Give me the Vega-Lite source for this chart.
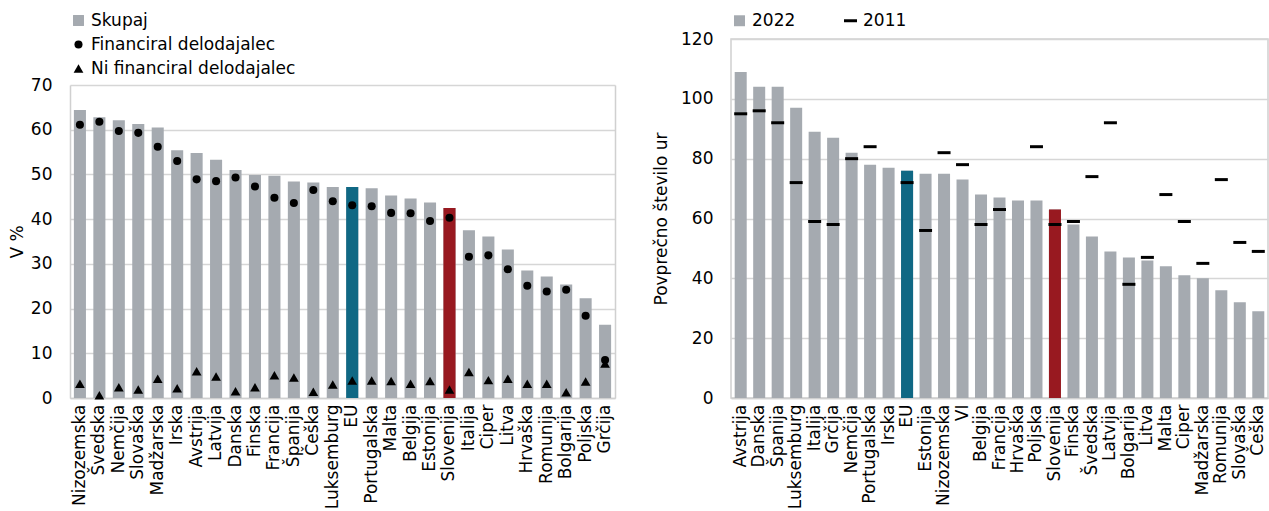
{
  "$schema": "https://vega.github.io/schema/vega-lite/v6.json",
  "padding": {"left": 8, "top": 11, "right": 0, "bottom": 0},
  "spacing": 36,
  "config": {
    "font": "DejaVu Sans",
    "view": {"stroke": "#d0d0d0", "strokeWidth": 1.5},
    "axis": {"labelFontSize": 17, "titleFontSize": 17, "labelColor": "#000", "titleColor": "#000", "titleFontWeight": "normal", "gridColor": "#d6d6d6", "gridWidth": 1.5, "domainColor": "#d0d0d0", "domainWidth": 1.5, "ticks": false, "labelLimit": 300},
    "legend": {"labelFontSize": 17, "labelColor": "#000", "labelLimit": 400}
  },
  "datasets": {
    "left": [
      {"country": "Nizozemska", "Skupaj": 64.4, "Financiral delodajalec": 61.1, "Ni financiral delodajalec": 3.2},
      {"country": "Švedska", "Skupaj": 62.8, "Financiral delodajalec": 61.8, "Ni financiral delodajalec": 0.6},
      {"country": "Nemčija", "Skupaj": 62.1, "Financiral delodajalec": 59.7, "Ni financiral delodajalec": 2.4},
      {"country": "Slovaška", "Skupaj": 61.3, "Financiral delodajalec": 59.3, "Ni financiral delodajalec": 1.9},
      {"country": "Madžarska", "Skupaj": 60.5, "Financiral delodajalec": 56.2, "Ni financiral delodajalec": 4.3},
      {"country": "Irska", "Skupaj": 55.4, "Financiral delodajalec": 53.0, "Ni financiral delodajalec": 2.2},
      {"country": "Avstrija", "Skupaj": 54.8, "Financiral delodajalec": 48.9, "Ni financiral delodajalec": 6.0},
      {"country": "Latvija", "Skupaj": 53.3, "Financiral delodajalec": 48.5, "Ni financiral delodajalec": 4.8},
      {"country": "Danska", "Skupaj": 51.0, "Financiral delodajalec": 49.3, "Ni financiral delodajalec": 1.5},
      {"country": "Finska", "Skupaj": 49.9, "Financiral delodajalec": 47.3, "Ni financiral delodajalec": 2.4},
      {"country": "Francija", "Skupaj": 49.7, "Financiral delodajalec": 44.8, "Ni financiral delodajalec": 5.1},
      {"country": "Španija", "Skupaj": 48.4, "Financiral delodajalec": 43.6, "Ni financiral delodajalec": 4.6},
      {"country": "Češka", "Skupaj": 48.2, "Financiral delodajalec": 46.5, "Ni financiral delodajalec": 1.4},
      {"country": "Luksemburg", "Skupaj": 47.2, "Financiral delodajalec": 44.0, "Ni financiral delodajalec": 3.0},
      {"country": "EU", "Skupaj": 47.2, "Financiral delodajalec": 43.1, "Ni financiral delodajalec": 3.9},
      {"country": "Portugalska", "Skupaj": 46.9, "Financiral delodajalec": 42.9, "Ni financiral delodajalec": 3.9},
      {"country": "Malta", "Skupaj": 45.3, "Financiral delodajalec": 41.4, "Ni financiral delodajalec": 3.8},
      {"country": "Belgija", "Skupaj": 44.6, "Financiral delodajalec": 41.3, "Ni financiral delodajalec": 3.2},
      {"country": "Estonija", "Skupaj": 43.7, "Financiral delodajalec": 39.6, "Ni financiral delodajalec": 3.8},
      {"country": "Slovenija", "Skupaj": 42.5, "Financiral delodajalec": 40.3, "Ni financiral delodajalec": 1.9},
      {"country": "Italija", "Skupaj": 37.5, "Financiral delodajalec": 31.6, "Ni financiral delodajalec": 5.8},
      {"country": "Ciper", "Skupaj": 36.1, "Financiral delodajalec": 31.9, "Ni financiral delodajalec": 4.0},
      {"country": "Litva", "Skupaj": 33.2, "Financiral delodajalec": 28.8, "Ni financiral delodajalec": 4.3},
      {"country": "Hrvaška", "Skupaj": 28.5, "Financiral delodajalec": 25.1, "Ni financiral delodajalec": 3.2},
      {"country": "Romunija", "Skupaj": 27.2, "Financiral delodajalec": 23.8, "Ni financiral delodajalec": 3.2},
      {"country": "Bolgarija", "Skupaj": 25.4, "Financiral delodajalec": 24.2, "Ni financiral delodajalec": 1.3},
      {"country": "Poljska", "Skupaj": 22.3, "Financiral delodajalec": 18.4, "Ni financiral delodajalec": 3.7},
      {"country": "Grčija", "Skupaj": 16.4, "Financiral delodajalec": 8.5, "Ni financiral delodajalec": 7.7}
    ],
    "right": [
      {"country": "Avstrija", "y2022": 109, "y2011": 95},
      {"country": "Danska", "y2022": 104, "y2011": 96},
      {"country": "Španija", "y2022": 104, "y2011": 92},
      {"country": "Luksemburg", "y2022": 97, "y2011": 72},
      {"country": "Italija", "y2022": 89, "y2011": 59},
      {"country": "Grčija", "y2022": 87, "y2011": 58},
      {"country": "Nemčija", "y2022": 82, "y2011": 80},
      {"country": "Portugalska", "y2022": 78, "y2011": 84},
      {"country": "Irska", "y2022": 77, "y2011": null},
      {"country": "EU", "y2022": 76, "y2011": 72},
      {"country": "Estonija", "y2022": 75, "y2011": 56},
      {"country": "Nizozemska", "y2022": 75, "y2011": 82},
      {"country": "VI", "y2022": 73, "y2011": 78},
      {"country": "Belgija", "y2022": 68, "y2011": 58},
      {"country": "Francija", "y2022": 67, "y2011": 63},
      {"country": "Hrvaška", "y2022": 66, "y2011": null},
      {"country": "Poljska", "y2022": 66, "y2011": 84},
      {"country": "Slovenija", "y2022": 63, "y2011": 58},
      {"country": "Finska", "y2022": 58, "y2011": 59},
      {"country": "Švedska", "y2022": 54, "y2011": 74},
      {"country": "Latvija", "y2022": 49, "y2011": 92},
      {"country": "Bolgarija", "y2022": 47, "y2011": 38},
      {"country": "Litva", "y2022": 46, "y2011": 47},
      {"country": "Malta", "y2022": 44, "y2011": 68},
      {"country": "Ciper", "y2022": 41, "y2011": 59},
      {"country": "Madžarska", "y2022": 40, "y2011": 45},
      {"country": "Romunija", "y2022": 36, "y2011": 73},
      {"country": "Slovaška", "y2022": 32, "y2011": 52},
      {"country": "Češka", "y2022": 29, "y2011": 49}
    ]
  },
  "hconcat": [
    {
      "width": 545,
      "height": 359,
      "view": {"stroke": null},
      "data": {"name": "left"},
      "transform": [{"fold": ["Skupaj", "Financiral delodajalec", "Ni financiral delodajalec"], "as": ["series", "value"]}],
      "encoding": {
        "x": {"field": "country", "type": "nominal", "sort": null, "title": null, "scale": {"paddingInner": 0.38, "paddingOuter": 0.2}, "axis": {"labelAngle": -90, "labelPadding": 6, "domain": true}}
      },
      "layer": [
        {
          "transform": [{"filter": "datum.series === 'Skupaj'"}],
          "mark": {"type": "bar"},
          "encoding": {
            "y": {"field": "value", "type": "quantitative", "title": "V %", "scale": {"domain": [0, 70], "range": [359, 46]}, "axis": {"values": [0, 10, 20, 30, 40, 50, 60, 70], "labelPadding": 18, "titlePadding": 4, "domain": true}},
            "color": {"field": "series", "type": "nominal", "scale": {"domain": ["Skupaj", "Financiral delodajalec", "Ni financiral delodajalec"], "range": ["#a5aab0", "#000000", "#000000"]}, "legend": {"title": null, "orient": "none", "legendX": 0, "legendY": -27, "direction": "vertical", "columns": 1, "rowPadding": 6}}
          }
        },
        {
          "transform": [{"filter": "datum.series === 'Skupaj' && (datum.country === 'EU' || datum.country === 'Slovenija')"}],
          "mark": {"type": "bar"},
          "encoding": {
            "y": {"field": "value", "type": "quantitative", "axis": null},
            "color": {"condition": {"test": "datum.country === 'EU'", "value": "#106884"}, "value": "#981920"}
          }
        },
        {
          "transform": [{"filter": "datum.series !== 'Skupaj'"}],
          "mark": {"type": "point", "filled": true, "opacity": 1},
          "encoding": {
            "y": {"field": "value", "type": "quantitative", "axis": {"orient": "right", "labels": false, "grid": false, "domain": true, "title": null}},
            "color": {"field": "series", "type": "nominal"},
            "shape": {"field": "series", "type": "nominal", "scale": {"domain": ["Skupaj", "Financiral delodajalec", "Ni financiral delodajalec"], "range": ["square", "circle", "triangle-up"]}},
            "size": {"field": "series", "type": "ordinal", "scale": {"type": "ordinal", "domain": ["Skupaj", "Financiral delodajalec", "Ni financiral delodajalec"], "range": [120, 65, 95]}}
          }
        }
      ],
      "resolve": {"axis": {"y": "independent"}}
    },
    {
      "width": 537,
      "height": 359,
      "data": {"name": "right"},
      "transform": [{"fold": ["y2022", "y2011"], "as": ["key", "value"]}, {"calculate": "substring(datum.key, 1)", "as": "series"}],
      "encoding": {
        "x": {"field": "country", "type": "nominal", "sort": null, "title": null, "scale": {"paddingInner": 0.35, "paddingOuter": 0.2}, "axis": {"labelAngle": -90, "labelPadding": 6}},
        "y": {"field": "value", "type": "quantitative", "title": "Povprečno število ur", "scale": {"domain": [0, 120]}, "axis": {"values": [0, 20, 40, 60, 80, 100, 120], "labelPadding": 18, "titlePadding": 10, "domain": false}}
      },
      "layer": [
        {
          "transform": [{"filter": "datum.series === '2022'"}],
          "mark": {"type": "bar"},
          "encoding": {
            "color": {"field": "series", "type": "nominal", "scale": {"domain": ["2022", "2011"], "range": ["#a5aab0", "#000000"]}, "legend": {"title": null, "orient": "none", "legendX": 0, "legendY": -27, "direction": "horizontal", "columnPadding": 46}}
          }
        },
        {
          "transform": [{"filter": "datum.series === '2022' && (datum.country === 'EU' || datum.country === 'Slovenija')"}],
          "mark": {"type": "bar"},
          "encoding": {
            "color": {"condition": {"test": "datum.country === 'EU'", "value": "#106884"}, "value": "#981920"}
          }
        },
        {
          "transform": [{"filter": "datum.series === '2011' && isValid(datum.value)"}],
          "mark": {"type": "point", "filled": true, "opacity": 1},
          "encoding": {
            "color": {"field": "series", "type": "nominal"},
            "shape": {"field": "series", "type": "nominal", "scale": {"domain": ["2022", "2011"], "range": ["square", "M-1,-0.23H1V0.23H-1Z"]}},
            "size": {"field": "series", "type": "ordinal", "scale": {"type": "ordinal", "domain": ["2022", "2011"], "range": [120, 169]}}
          }
        }
      ]
    }
  ],
  "resolve": {"scale": {"color": "independent", "shape": "independent", "size": "independent", "y": "independent", "x": "independent"}}
}
